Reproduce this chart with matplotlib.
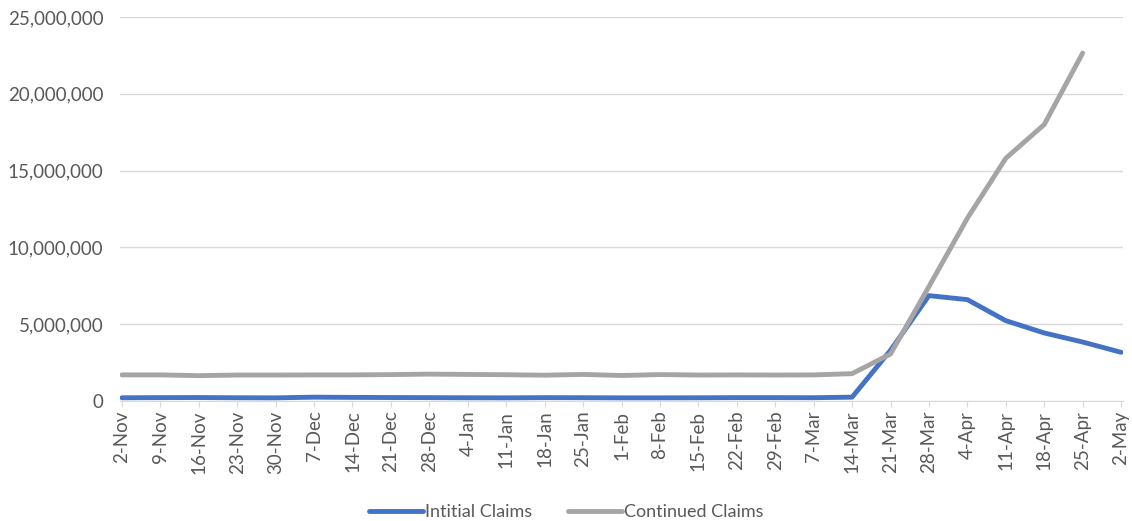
import matplotlib.pyplot as plt
from matplotlib.ticker import FuncFormatter

# Weekly unemployment claims
weeks = ["2-Nov", "9-Nov", "16-Nov", "23-Nov", "30-Nov", "7-Dec", "14-Dec", "21-Dec",
         "28-Dec", "4-Jan", "11-Jan", "18-Jan", "25-Jan", "1-Feb", "8-Feb", "15-Feb",
         "22-Feb", "29-Feb", "7-Mar", "14-Mar", "21-Mar", "28-Mar", "4-Apr", "11-Apr",
         "18-Apr", "25-Apr", "2-May"]

initial_claims = [210000, 220000, 225000, 212000, 205000, 250000, 235000, 225000,
                  220000, 210000, 205000, 220000, 215000, 205000, 205000, 210000,
                  220000, 220000, 215000, 250000, 3300000, 6860000, 6600000, 5230000,
                  4430000, 3840000, 3170000]

continued_claims = [1700000, 1700000, 1650000, 1690000, 1690000, 1700000, 1700000, 1720000,
                    1750000, 1730000, 1710000, 1680000, 1730000, 1660000, 1720000, 1690000,
                    1700000, 1690000, 1700000, 1780000, 3060000, 7450000, 11900000, 15800000,
                    18000000, 22650000]

text_col = "#595959"
plt.rcParams['font.family'] = ['Lato', 'DejaVu Sans']

fig = plt.figure(figsize=(11.32, 5.21), dpi=100)
ax = fig.add_axes([120 / 1132, 1 - 401 / 521, (1123 - 120) / 1132, (401 - 17) / 521])

x = list(range(len(weeks)))
ax.plot(x, initial_claims, color="#4472C4", lw=3.5, solid_capstyle="round", label="Intitial Claims", zorder=3)
ax.plot(x[:len(continued_claims)], continued_claims, color="#A5A5A5", lw=3.5,
        solid_capstyle="round", label="Continued Claims", zorder=3)

ax.set_xlim(-0.05, len(weeks) - 1 + 0.05)
ax.set_ylim(0, 25000000)
ax.set_yticks(range(0, 25000001, 5000000))
ax.yaxis.set_major_formatter(FuncFormatter(lambda v, p: f"{int(v):,}"))
ax.set_xticks(x)
ax.set_xticklabels(weeks, rotation=90)

ax.grid(axis="y", color="#D9D9D9", lw=1)
ax.set_axisbelow(True)
for s in ["top", "right", "left"]:
    ax.spines[s].set_visible(False)
ax.spines["bottom"].set_color("#D9D9D9")
ax.tick_params(axis="y", length=0, labelsize=13.5, labelcolor=text_col, pad=12)
ax.tick_params(axis="x", length=4, color="#D9D9D9", labelsize=13.5, labelcolor=text_col, pad=3)

fig.legend(loc="lower center", bbox_to_anchor=(0.5, -0.03), ncol=2, frameon=False,
           fontsize=13, labelcolor=text_col, handlelength=3.0, handletextpad=0.1,
           columnspacing=2.0)

fig.savefig("out.png", dpi=100)
